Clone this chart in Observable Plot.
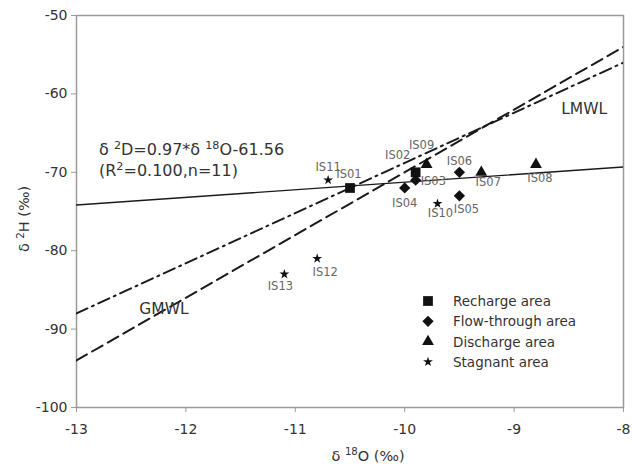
<!DOCTYPE html>
<html>
<head>
<meta charset="utf-8">
<script src="https://cdn.jsdelivr.net/npm/d3@7"></script>
<script src="https://cdn.jsdelivr.net/npm/@observablehq/plot@0.6"></script>
<style>
  body { margin: 0; background: #fff; }
  #chart { position: relative; width: 632px; height: 470px; font-family: "DejaVu Sans", sans-serif; }
</style>
</head>
<body>
<div id="chart"></div>
<script>
// ---- data ----
const sampleIds   = ["IS01","IS02","IS03","IS04","IS05","IS06","IS07","IS08","IS09","IS10","IS11","IS12","IS13"];
const sampleO18   = [-10.5, -9.9, -9.9, -10.0, -9.5, -9.5, -9.3, -8.8, -9.8, -9.7, -10.7, -10.8, -11.1];
const sampleH2    = [-72, -70, -71, -72, -73, -70, -70, -69, -69, -74, -71, -81, -83];
const sampleArea  = ["Recharge area","Recharge area","Flow-through area","Flow-through area","Flow-through area","Flow-through area","Discharge area","Discharge area","Discharge area","Stagnant area","Stagnant area","Stagnant area","Stagnant area"];
const areaTypes   = ["Recharge area","Flow-through area","Discharge area","Stagnant area"];
const areaSymbols = ["square","diamond","triangle","star"];

const lineNames      = ["Regression","LMWL","GMWL"];
const lineSlopes     = [0.97, 6.4, 8];
const lineIntercepts = [-61.56, -4.8, 10];
const xDomain = [-13, -8];
const yDomain = [-100, -50];
const xTicks = [-13, -12, -11, -10, -9, -8];
const yTicks = [-100, -90, -80, -70, -60, -50];
const lineLabels = ["LMWL", "GMWL"];
const lineLabelX = [-8.36, -12.2];
const lineLabelY = [-61.9, -87.4];

// ---- build ----
const points = sampleIds.map((id, i) => ({id, x: sampleO18[i], y: sampleH2[i], area: sampleArea[i]}));
const lines = lineNames.map((name, i) => xDomain.map(x => ({name, x, y: lineSlopes[i] * x + lineIntercepts[i]})));

// styles
const font = '"DejaVu Sans", sans-serif';
const labelOffsets = {
  IS01: [-1, -14, "middle"], IS02: [-18, -17, "middle"], IS03: [5, 1, "start"], IS04: [0, 15, "middle"],
  IS05: [7, 13, "middle"], IS06: [0, -11, "middle"], IS07: [7, 10, "middle"], IS08: [4, 14, "middle"],
  IS09: [-5, -19, "middle"], IS10: [3, 10, "middle"], IS11: [0, -13, "middle"], IS12: [8, 14, "middle"],
  IS13: [-4, 12, "middle"]
};
const lineStyles = {
  Regression: {stroke: "#1a1a1a", strokeWidth: 1.3},
  LMWL: {stroke: "#1a1a1a", strokeWidth: 2, strokeDasharray: "12,5,2,5"},
  GMWL: {stroke: "#1a1a1a", strokeWidth: 2, strokeDasharray: "12,6"}
};
const symbolStyle = {
  "Recharge area": {symbol: "square", r: 5.5, rotate: 0},
  "Flow-through area": {symbol: "square", r: 4.5, rotate: 45},
  "Discharge area": {symbol: "triangle", r: 4.4, rotate: 0},
  "Stagnant area": {symbol: "star", r: 3.1, rotate: 0}
};

const W = 632, H = 470, mL = 76, mR = 9, mT = 15, mB = 63;
const fmt = d => String(d);

const plot = Plot.plot({
  width: W, height: H,
  marginLeft: mL, marginRight: mR, marginTop: mT, marginBottom: mB,
  style: {fontFamily: font, background: "#fff"},
  x: {domain: xDomain, ticks: xTicks},
  y: {domain: yDomain, ticks: yTicks},
  marks: [
    Plot.frame({stroke: "#999", strokeWidth: 1.5}),
    ...lines.map(l => Plot.line(l, {x: "x", y: "y", ...lineStyles[l[0].name], clip: true})),
    ...areaTypes.map(a => Plot.dot(points.filter(p => p.area === a), {x: "x", y: "y", fill: "#111", stroke: "none", ...symbolStyle[a]})),
    ...points.map(p => {
      const [dx, dy, anchor] = labelOffsets[p.id];
      return Plot.text([p], {x: "x", y: "y", text: "id", dx, dy, textAnchor: anchor, fontSize: 11.5, fill: "#666"});
    }),
    Plot.text(lineLabels.map((t, i) => ({t, x: lineLabelX[i], y: lineLabelY[i]})), {x: "x", y: "y", text: "t", fontSize: 15.5, fill: "#333"}),
    Plot.axisX({ticks: xTicks, tickFormat: fmt, tickSize: 5, tickPadding: 12, stroke: "#999", fill: "#333", fontSize: 14, label: null}),
    Plot.axisY({ticks: yTicks, tickFormat: fmt, tickSize: 5, tickPadding: 4, stroke: "#999", fill: "#333", fontSize: 14, label: null})
  ]
});

document.getElementById("chart").appendChild(plot);

// ---- extra text with superscripts and legend ----
const svg = d3.select(plot);

function supText(g, parts, x, y, size, fill, anchor) {
  const t = g.append("text").attr("x", x).attr("y", y).attr("font-size", size).attr("fill", fill)
    .attr("font-family", font).attr("text-anchor", anchor || "start");
  const shift = size * 0.38;
  let raised = false;
  parts.forEach(([s, sup]) => {
    const ts = t.append("tspan").text(s);
    if (sup && !raised) { ts.attr("dy", -shift).attr("font-size", size * 0.7); raised = true; }
    else if (sup) { ts.attr("font-size", size * 0.7); }
    else if (raised) { ts.attr("dy", shift); raised = false; }
  });
  return t;
}

// equation
supText(svg, [["δ "], ["2", true], ["D=0.97*δ "], ["18", true], ["O-61.56"]], 99, 155, 16, "#333");
supText(svg, [["(R"], ["2", true], ["=0.100,n=11)"]], 99, 176, 16, "#333");

// axis titles
supText(svg, [["δ "], ["18", true], ["O (‰)"]], 368, 461, 14.5, "#333", "middle");
supText(svg.append("g").attr("transform", "translate(29,219) rotate(-90)"), [["δ "], ["2", true], ["H (‰)"]], 0, 0, 14.5, "#333", "middle");

// legend
const legend = svg.append("g");
const d3sym = {square: d3.symbolSquare, triangle: d3.symbolTriangle, star: d3.symbolStar};
areaTypes.forEach((name, i) => {
  const y = 301 + i * 20.3;
  const st = symbolStyle[name];
  legend.append("path")
    .attr("transform", `translate(428,${y}) rotate(${st.rotate})`)
    .attr("d", d3.symbol(d3sym[st.symbol], Math.PI * st.r * st.r)())
    .attr("fill", "#111");
  legend.append("text").attr("x", 453).attr("y", y + 5).attr("font-size", 13.5).attr("fill", "#333")
    .attr("font-family", font).attr("text-anchor", "start").text(name);
});
</script>
</body>
</html>
